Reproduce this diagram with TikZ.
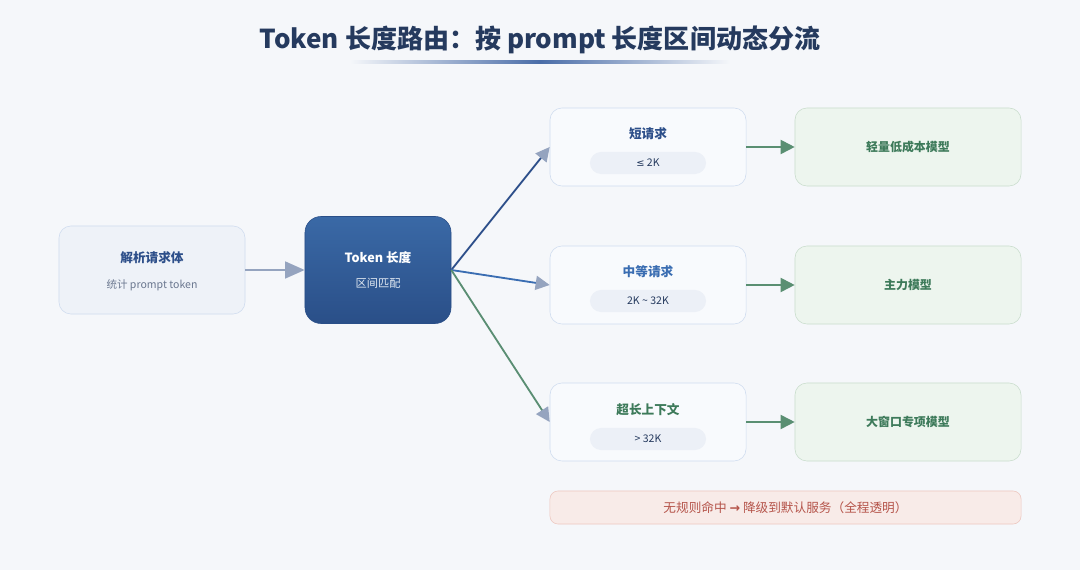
\documentclass[tikz,border=0pt]{standalone}
\usepackage{fontspec}
\setmainfont{Noto Sans CJK SC}
\newfontfamily\symfont{DejaVu Sans}
\usepackage{tikz}
\usetikzlibrary{arrows.meta, positioning}
\definecolor{bgcol}{HTML}{F5F7FA}
\definecolor{titlecol}{HTML}{253A5E}
\definecolor{linecol}{HTML}{4A6DA8}
\definecolor{arrgray}{HTML}{95A4BF}
\definecolor{boxline}{HTML}{CFDCEF}
\definecolor{parsefill}{HTML}{EEF2F8}
\definecolor{reqfill}{HTML}{F8FAFD}
\definecolor{pillfill}{HTML}{ECF0F7}
\definecolor{subgray}{HTML}{6B7890}
\definecolor{tokentop}{HTML}{3A69A6}
\definecolor{tokenbot}{HTML}{2A4F88}
\definecolor{shortcol}{HTML}{2D4F8A}
\definecolor{midcol}{HTML}{3A6DB2}
\definecolor{longcol}{HTML}{3D7A5A}
\definecolor{modelfill}{HTML}{EDF5EE}
\definecolor{modelline}{HTML}{C9DDCC}
\definecolor{modelarr}{HTML}{5A8F72}
\definecolor{failfill}{HTML}{F8EBE8}
\definecolor{failline}{HTML}{EDC7BF}
\definecolor{failtext}{HTML}{B5544A}
\tikzset{
  reqbox/.style={draw=boxline, fill=reqfill, rounded corners=0.3cm, minimum width=4.9cm, minimum height=1.95cm},
  modelbox/.style={draw=modelline, fill=modelfill, rounded corners=0.3cm, minimum width=5.65cm, minimum height=1.95cm,
    text=longcol, font=\fontsize{8.5}{10}\selectfont\bfseries},
  pill/.style={fill=pillfill, rounded corners=0.275cm, minimum width=2.9cm, minimum height=0.55cm,
    text=titlecol, font=\fontsize{7.5}{9}\selectfont},
  boxtitle/.style={font=\fontsize{9}{10}\selectfont\bfseries},
  fanarrow/.style={line width=1.3pt, -{Triangle[length=10pt, width=10pt, color=arrgray]}},
  modelarrow/.style={line width=1.3pt, modelarr, -{Triangle[length=10pt, width=10pt]}}
}

\begin{document}
\begin{tikzpicture}[x=0.025cm, y=-0.025cm]
  \fill[bgcol] (0,0) rectangle (1080,570);
  % title
  \node[text=titlecol, font=\fontsize{18.5}{22}\selectfont\bfseries] (title) at (540,40) {Token 长度路由：按 prompt 长度区间动态分流};
  \shade[left color=bgcol, right color=bgcol, middle color=linecol] (350,61) rectangle (730,63.5);

  % input side
  \node[draw=boxline, fill=parsefill, rounded corners=0.3cm, minimum width=4.65cm, minimum height=2.2cm] (parse) at (152,270) {};
  \node[boxtitle, text=shortcol] (parsetitle) at (152,258) {解析请求体};
  \node[text=subgray, font=\fontsize{7.5}{9}\selectfont] (parsesub) at (152,285) {统计 prompt token};
  \node[top color=tokentop, bottom color=tokenbot, draw=tokenbot, rounded corners=0.4cm, minimum width=3.65cm, minimum height=2.675cm] (tok) at (378,270) {};
  \node[boxtitle, text=white] (toktitle) at (378,258) {Token 长度};
  \node[text=white!85!tokentop, font=\fontsize{8}{9}\selectfont] (toksub) at (378,283) {区间匹配};
  \draw[line width=1.6pt, arrgray, -{Triangle[length=14pt, width=12pt]}] (parse) -- (tok);

  % buckets
  \node[reqbox] (short) at (648,147) {};
  \node[boxtitle, text=shortcol] (shorttitle) at (648,134) {短请求};
  \node[pill] (shortpill) at (648,163) {{\symfont\fontsize{7}{9}\selectfont ≤} 2K};
  \node[reqbox] (mid) at (648,285) {};
  \node[boxtitle, text=midcol] (midtitle) at (648,272) {中等请求};
  \node[pill] (midpill) at (648,301) {2K \textasciitilde{} 32K};
  \node[reqbox] (long) at (648,422) {};
  \node[boxtitle, text=longcol] (longtitle) at (648,410) {超长上下文};
  \node[pill] (longpill) at (648,439) {> 32K};

  \draw[fanarrow, shortcol] (tok.east) -- (short.west);
  \draw[fanarrow, midcol] (tok.east) -- (mid.west);
  \draw[fanarrow, longcol!85!white] (tok.east) -- (long.west);

  % models
  \node[modelbox] (lite) at (908,147) {轻量低成本模型};
  \node[modelbox] (main) at (908,285) {主力模型};
  \node[modelbox] (big) at (908,422) {大窗口专项模型};
  \draw[modelarrow] (short) -- (lite);
  \draw[modelarrow] (mid) -- (main);
  \draw[modelarrow] (long) -- (big);

  % fallback
  \node[draw=failline, fill=failfill, rounded corners=0.2cm, minimum width=11.775cm, minimum height=0.825cm,
    text=failtext, font=\fontsize{9}{10}\selectfont] (fallback) at (785.5,507.5) {无规则命中 {\symfont\bfseries →} 降级到默认服务（全程透明）};
\end{tikzpicture}
\end{document}
